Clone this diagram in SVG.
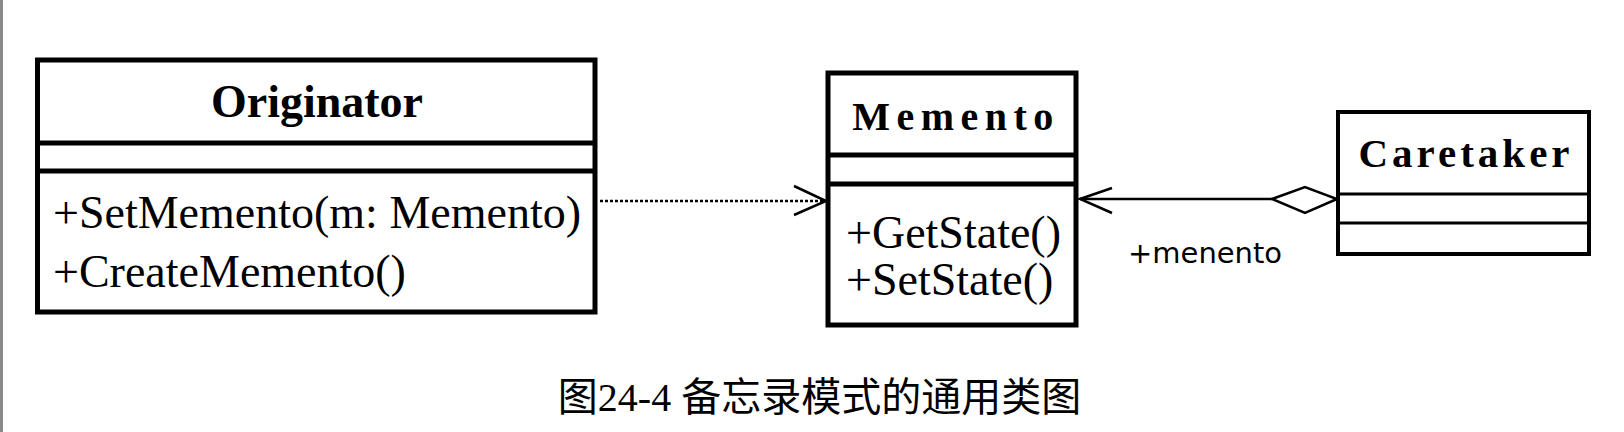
<svg xmlns="http://www.w3.org/2000/svg" width="1624" height="432" viewBox="0 0 1624 432">
<defs>
<style>
.box{fill:#fff;stroke:#000;stroke-width:5}
.sep{stroke:#000;stroke-width:5}
.box2{fill:#fff;stroke:#000;stroke-width:4}
.sep2{stroke:#000;stroke-width:3}
.title{font-family:"Liberation Serif","Times New Roman",serif;font-weight:bold;text-anchor:middle;fill:#000}
.op{font-family:"Liberation Serif","Times New Roman",serif;font-size:46px;fill:#000}
.lbl{font-family:"DejaVu Sans",Verdana,sans-serif;font-size:29px;fill:#000}
.cap{font-family:"Liberation Serif","Noto Sans CJK SC",serif;font-size:40px;fill:#000;text-anchor:middle}
.ln{fill:none;stroke:#000;stroke-width:2.5}
</style>
</defs>
<rect x="0" y="0" width="1624" height="432" fill="#fff"/>
<rect x="0" y="0" width="3" height="432" fill="#8a8a8a"/>

<g id="originator">
<rect class="box" x="37.5" y="60" width="557.5" height="252"/>
<line class="sep" x1="37.5" y1="143" x2="595" y2="143"/>
<line class="sep" x1="37.5" y1="171" x2="595" y2="171"/>
<text class="title" x="317" y="117" font-size="46">Originator</text>
<text class="op" x="53" y="228">+SetMemento(m: Memento)</text>
<text class="op" x="53" y="287">+CreateMemento()</text>
</g>

<g id="memento">
<rect class="box" x="828" y="73" width="248" height="252"/>
<line class="sep" x1="828" y1="155" x2="1076" y2="155"/>
<line class="sep" x1="828" y1="184" x2="1076" y2="184"/>
<text class="title" x="956" y="130" font-size="40" letter-spacing="6.5">Memento</text>
<text class="op" x="846" y="248">+GetState()</text>
<text class="op" x="846" y="295">+SetState()</text>
</g>

<g id="caretaker">
<rect class="box2" x="1338" y="112" width="251" height="142"/>
<line class="sep2" x1="1338" y1="194" x2="1589" y2="194"/>
<line class="sep2" x1="1338" y1="223" x2="1589" y2="223"/>
<text class="title" x="1466" y="167" font-size="41" letter-spacing="4">Caretaker</text>
</g>

<g id="connectors">
<line class="ln" x1="600" y1="201" x2="825" y2="201" stroke-dasharray="3 2"/>
<polyline class="ln" points="794,186 826,201 794,215"/>
<line class="ln" x1="1080" y1="199" x2="1272" y2="199"/>
<polyline class="ln" points="1112,188 1080,199 1112,213"/>
<polygon class="ln" style="fill:#fff" points="1272,199 1305,187 1337,199 1305,213"/>
<text class="lbl" x="1128" y="263">+menento</text>
</g>

<text class="cap" x="819.5" y="411">图24-4 备忘录模式的通用类图</text>
</svg>
